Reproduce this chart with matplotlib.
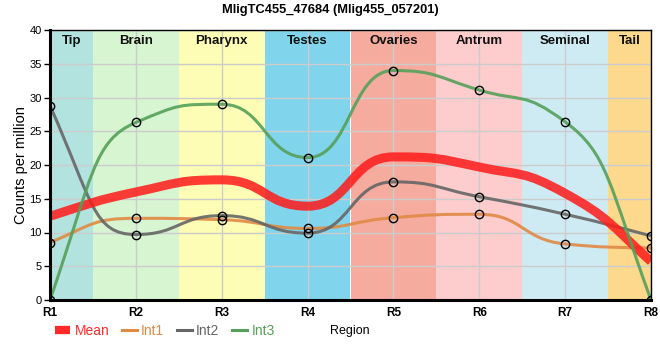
import numpy as np
import matplotlib.pyplot as plt
from matplotlib.path import Path
from matplotlib.patches import PathPatch
from matplotlib.lines import Line2D

plt.rcParams["font.family"] = ["Liberation Sans", "DejaVu Sans"]

title = "MligTC455_47684 (Mlig455_057201)"
regions = ["Tip", "Brain", "Pharynx", "Testes", "Ovaries", "Antrum", "Seminal", "Tail"]
region_colors = ["#b3e3df", "#d7f5d0", "#fdfdb5", "#80d5ec",
                 "#f5ab9e", "#fdcccd", "#ceebf4", "#fcd98d"]
positions = ["R1", "R2", "R3", "R4", "R5", "R6", "R7", "R8"]

mean = [12.4, 16.0, 17.8, 13.9, 21.2, 19.7, 15.8, 5.7]
int1 = [8.5, 12.1, 11.9, 10.6, 12.2, 12.7, 8.3, 7.7]
int2 = [28.8, 9.7, 12.5, 9.9, 17.5, 15.3, 12.7, 9.5]
int3 = [0.0, 26.3, 29.0, 21.1, 34.0, 31.1, 26.4, 0.0]


def sgn(v):
    return -1.0 if v < 0 else 1.0


def smooth_path(x, y):
    # monotone tangents (d3 style), bezier handles at half the step
    x = np.asarray(x, float)
    y = np.asarray(y, float)
    n = len(x)
    h = np.diff(x)
    s = np.diff(y) / h
    t = np.zeros(n)
    for i in range(1, n - 1):
        p = (s[i - 1] * h[i] + s[i] * h[i - 1]) / (h[i - 1] + h[i])
        t[i] = (sgn(s[i - 1]) + sgn(s[i])) * min(abs(s[i - 1]), abs(s[i]), 0.5 * abs(p))
    t[0] = (3 * s[0] - t[1]) / 2
    t[-1] = (3 * s[-1] - t[-2]) / 2
    verts = [(x[0], y[0])]
    codes = [Path.MOVETO]
    for i in range(n - 1):
        dx = h[i] / 2
        verts += [(x[i] + dx, y[i] + dx * t[i]),
                  (x[i + 1] - dx, y[i + 1] - dx * t[i + 1]),
                  (x[i + 1], y[i + 1])]
        codes += [Path.CURVE4] * 3
    return Path(verts, codes)


xs = np.arange(1, len(positions) + 1)

fig = plt.figure(figsize=(6.6, 3.6), dpi=100)
ax = fig.add_axes([50 / 660, 60 / 360, 601 / 660, 270 / 360])

for i, (name, col) in enumerate(zip(regions, region_colors)):
    ax.axvspan(xs[i] - 0.5, xs[i] + 0.5, color=col, lw=0, zorder=0.1)
    lo = max(xs[i] - 0.5, xs[0])
    hi = min(xs[i] + 0.5, xs[-1])
    ax.text((lo + hi) / 2, 38.4, name, ha="center", va="center",
            fontsize=9.5, fontweight="bold", color="#111111", zorder=6)

ax.set_xlim(xs[0], xs[-1])
ax.set_ylim(0, 40)
ax.set_axisbelow(True)
ax.grid(True, color="#cccccc", lw=1)
ax.set_xticks(xs)
ax.set_xticklabels(positions, fontweight="bold", fontsize=8.5)
ax.set_yticks(np.arange(0, 41, 5))
ax.tick_params(axis="x", length=0, pad=5)
ax.tick_params(axis="y", length=4, width=1, labelsize=8, pad=2)

series = [
    ("Int1", int1, "#e08a45", 2.2, 0.9, True),
    ("Int2", int2, "#666666", 2.2, 0.9, True),
    ("Mean", mean, "#ff1a1a", 6.5, 0.85, False),
    ("Int3", int3, "#55a05a", 2.2, 0.9, True),
]
z = 3
for name, vals, col, lw, al, marks in series:
    patch = PathPatch(smooth_path(xs, vals), fc="none", ec=col, lw=lw,
                      alpha=al, capstyle="butt", joinstyle="round", zorder=z)
    ax.add_patch(patch)
    z += 1
for name, vals, col, lw, al, marks in series:
    if marks:
        ax.plot(xs, vals, "o", mfc="none", mec="black", ms=6, mew=1, zorder=8)

for side in ["left", "bottom"]:
    ax.spines[side].set_linewidth(2.2)
for side in ["top", "right"]:
    ax.spines[side].set_linewidth(1)
for sp in ax.spines.values():
    sp.set_zorder(9)

ax.set_ylabel("Counts per million", fontsize=10.5, labelpad=1)
fig.text(0.5, 1 - 10 / 360, title, ha="center", va="center",
         fontsize=9.3, fontweight="bold")
fig.text(350 / 660, 1 - 331 / 360, "Region", ha="center", va="center", fontsize=9)

handles = [
    Line2D([], [], color="#ff2a2a", lw=6, solid_capstyle="butt"),
    Line2D([], [], color="#e08a45", lw=2.2),
    Line2D([], [], color="#666666", lw=2.2),
    Line2D([], [], color="#55a05a", lw=2.2),
]
fig.legend(handles, ["Mean", "Int1", "Int2", "Int3"], loc="center left",
           bbox_to_anchor=(55 / 660, 1 - 331 / 360), ncol=4, frameon=False,
           fontsize=10, labelcolor="linecolor", handlelength=1.1,
           handletextpad=0.3, columnspacing=0.9, borderpad=0, borderaxespad=0)

fig.savefig("out.png", dpi=100)
